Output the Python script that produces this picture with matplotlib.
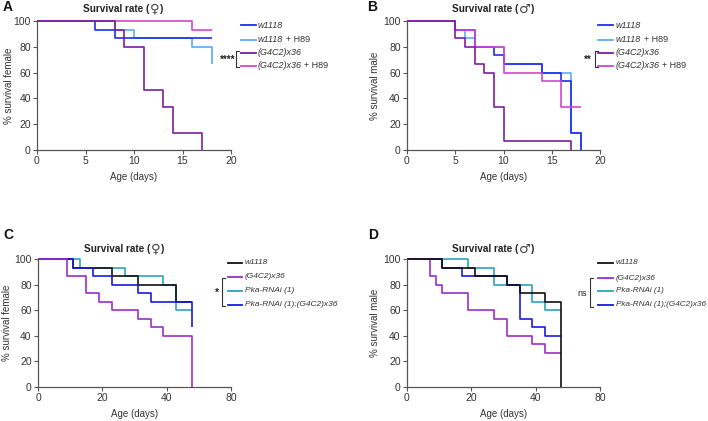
import matplotlib
matplotlib.use("Agg")
import matplotlib.pyplot as plt
from matplotlib.lines import Line2D

plt.rcParams['font.family'] = ['Liberation Sans', 'DejaVu Sans']

# ---------------- data ----------------
# Panel A (female, H89)
a_w1118_t = [0, 6, 8, 18]
a_w1118_s = [100, 93.3, 86.7, 86.7]
a_w1118h_t = [0, 8, 10, 16, 18]
a_w1118h_s = [100, 93.3, 86.7, 80, 66.7]
a_g4c2_t = [0, 8, 9, 11, 13, 14, 17]
a_g4c2_s = [100, 93.3, 80, 46.7, 33.3, 13.3, 0]
a_g4c2h_t = [0, 16, 18]
a_g4c2h_s = [100, 93.3, 93.3]

# Panel B (male, H89)
b_w1118_t = [0, 5, 7, 9, 10, 14, 16, 17, 18]
b_w1118_s = [100, 93.3, 80, 73.3, 66.7, 60, 53.3, 13.3, 0]
b_w1118h_t = [0, 5, 6, 7, 10, 14, 17, 18]
b_w1118h_s = [100, 93.3, 86.7, 80, 66.7, 60, 13.3, 0]
b_g4c2_t = [0, 5, 6, 7, 8, 9, 10, 17]
b_g4c2_s = [100, 86.7, 80, 66.7, 60, 33.3, 6.7, 0]
b_g4c2h_t = [0, 5, 7, 10, 14, 16, 18]
b_g4c2h_s = [100, 93.3, 80, 60, 53.3, 33.3, 33.3]

# Panel C (female, Pka-RNAi)
c_w1118_t = [0, 11, 23, 31, 43, 48]
c_w1118_s = [100, 93.3, 86.7, 80, 66.7, 66.7]
c_g4c2_t = [0, 9, 15, 19, 23, 31, 35, 39, 48]
c_g4c2_s = [100, 86.7, 73.3, 66.7, 60, 53.3, 46.7, 40, 0]
c_pka_t = [0, 13, 27, 39, 43, 48]
c_pka_s = [100, 93.3, 86.7, 80, 60, 60]
c_pkag_t = [0, 11, 17, 23, 31, 35, 48]
c_pkag_s = [100, 93.3, 86.7, 80, 73.3, 66.7, 46.7]

# Panel D (male, Pka-RNAi)
d_w1118_t = [0, 11, 21, 31, 35, 43, 48]
d_w1118_s = [100, 93.3, 86.7, 80, 73.3, 66.7, 0]
d_g4c2_t = [0, 7, 9, 11, 19, 27, 31, 39, 43, 48]
d_g4c2_s = [100, 86.7, 80, 73.3, 60, 53.3, 40, 33.3, 26.7, 26.7]
d_pka_t = [0, 19, 27, 39, 43, 48]
d_pka_s = [100, 93.3, 80, 66.7, 60, 60]
d_pkag_t = [0, 11, 17, 31, 35, 39, 43, 48]
d_pkag_s = [100, 93.3, 86.7, 80, 53.3, 46.7, 40, 40]

ab_xticks = [0, 5, 10, 15, 20]
ab_xticklabels = ['0', '5', '10', '15', '20']
cd_xticks = [0, 20, 40, 60]
cd_xticklabels = ['0', '20', '40', '80']
yticks = [0, 20, 40, 60, 80, 100]

# legend labels: (italic part, plain suffix)
ab_labels = [('w1118', ''), ('w1118', '+ H89'), ('(G4C2)x36', ''), ('(G4C2)x36', '+ H89')]
cd_labels = [('w1118', ''), ('(G4C2)x36', ''), ('Pka-RNAi (1)', ''), ('Pka-RNAi (1);(G4C2)x36', '')]

BLUE = '#1f2cf0'
LBLUE = '#5eaaf5'
PURPLE = '#7b1fa0'
MAGENTA = '#d444d0'
BLACK = '#111111'
VIOLET = '#9a2fc8'
TEAL = '#2ba3bd'
DBLUE = '#1a1ae0'
GRAY = '#555555'

W, H = 708, 421
fig = plt.figure(figsize=(W / 100, H / 100), dpi=100)
renderer = fig.canvas.get_renderer()


def fx(px):
    return px / W


def fy(py):
    return 1 - py / H


def rich(x, y, pieces, ha='left'):
    """pieces: list of (text, kwargs, gap_after_px). x,y in pixels from top-left."""
    arts = []
    widths = []
    for s, kw, gap in pieces:
        t = fig.text(0, fy(y), s, ha='left', va='center', **kw)
        w = t.get_window_extent(renderer).width
        arts.append(t)
        widths.append(w + gap)
    total = sum(widths)
    cur = x - total / 2 if ha == 'center' else x
    for t, w in zip(arts, widths):
        t.set_x(fx(cur))
        cur += w
    return arts


def make_ax(x0, x1, y0, y1, xlim, xticks, xticklabels, ylabel, ylabel_x, symbol, title_y):
    ax = fig.add_axes([fx(x0), fy(y1), fx(x1 - x0), (y1 - y0) / H])
    ax.set_xlim(xlim)
    ax.set_ylim(0, 100)
    for s in ['top', 'right']:
        ax.spines[s].set_visible(False)
    for s in ['left', 'bottom']:
        ax.spines[s].set_color(GRAY)
        ax.spines[s].set_linewidth(0.9)
    ax.set_xticks(xticks)
    ax.set_xticklabels(xticklabels)
    ax.set_yticks(yticks)
    ax.tick_params(length=3, width=0.8, color=GRAY, labelsize=7.5, labelcolor='#333333', pad=1.5)
    ax.set_xlabel('Age (days)', fontsize=7.0, color='#333333', labelpad=4)
    ax.set_ylabel(ylabel, fontsize=7.0, color='#333333', va='center')
    ax.yaxis.set_label_coords((ylabel_x - x0) / (x1 - x0), 0.5)
    ax.patch.set_alpha(0)
    tkw = dict(fontsize=7.2, fontweight='bold', color='#222222')
    rich(x0 + 0.445 * (x1 - x0), title_y,
         [('Survival rate (', tkw, 0.5),
          (symbol, dict(fontsize=9.5, color='#444444', family='DejaVu Sans'), 0.5),
          (')', tkw, 0)], ha='center')
    return ax


def steps(ax, t, s, c):
    ax.step(t, s, where='post', color=c, lw=1.2, clip_on=False, solid_capstyle='butt')


def legend(lx0, lx1, tx, rows, colors, labels, fs):
    for y, c, (it, plain) in zip(rows, colors, labels):
        fig.add_artist(Line2D([fx(lx0), fx(lx1)], [fy(y), fy(y)], color=c, lw=1.3))
        pieces = [(it, dict(fontsize=fs, style='italic', color='#333333'), fs * 0.38)]
        if plain:
            pieces.append((plain, dict(fontsize=fs, color='#333333'), 0))
        rich(tx, y, pieces)


def bracket(bx, y0, y1, star, sx, fs):
    fig.add_artist(Line2D([fx(bx + 3), fx(bx), fx(bx), fx(bx + 3)],
                          [fy(y0), fy(y0), fy(y1), fy(y1)], color='#333333', lw=0.8))
    fig.text(fx(sx), fy((y0 + y1) / 2 + 1), star, ha='right', va='center', fontsize=fs,
             fontweight='bold' if '*' in star else 'normal', color='#222222')


# Panel A
axA = make_ax(37, 231, 21, 150, (0, 20), ab_xticks, ab_xticklabels, '% survival female', 9.5, '♀', 9)
steps(axA, a_w1118h_t, a_w1118h_s, LBLUE)
steps(axA, a_w1118_t, a_w1118_s, BLUE)
steps(axA, a_g4c2h_t, a_g4c2h_s, MAGENTA)
steps(axA, a_g4c2_t, a_g4c2_s, PURPLE)
legend(241, 256, 258, [25, 39.5, 52.5, 65.5], [BLUE, LBLUE, PURPLE, MAGENTA], ab_labels, 6.5)
bracket(236, 51, 67, '****', 235, 7)

# Panel B
axB = make_ax(407, 600, 21, 150, (0, 20), ab_xticks, ab_xticklabels, '% survival male', 375.5, '♂', 9)
steps(axB, b_w1118h_t, b_w1118h_s, LBLUE)
steps(axB, b_w1118_t, b_w1118_s, BLUE)
steps(axB, b_g4c2h_t, b_g4c2h_s, MAGENTA)
steps(axB, b_g4c2_t, b_g4c2_s, PURPLE)
legend(598, 613, 616, [25, 39.5, 52.5, 65.5], [BLUE, LBLUE, PURPLE, MAGENTA], ab_labels, 6.5)
bracket(595, 51, 67, '**', 592, 7)

# Panel C
axC = make_ax(38, 231, 259, 387, (0, 60), cd_xticks, cd_xticklabels, '% survival female', 7.5, '♀', 249)
steps(axC, c_pka_t, c_pka_s, TEAL)
steps(axC, c_w1118_t, c_w1118_s, BLACK)
steps(axC, c_pkag_t, c_pkag_s, DBLUE)
steps(axC, c_g4c2_t, c_g4c2_s, VIOLET)
legend(228, 242, 245, [263, 277, 291, 305], [BLACK, VIOLET, TEAL, DBLUE], cd_labels, 6.0)
bracket(222, 278, 306, '*', 219, 7)

# Panel D
axD = make_ax(407, 600, 259, 387, (0, 60), cd_xticks, cd_xticklabels, '% survival male', 375.5, '♂', 249)
steps(axD, d_pka_t, d_pka_s, TEAL)
steps(axD, d_pkag_t, d_pkag_s, DBLUE)
steps(axD, d_g4c2_t, d_g4c2_s, VIOLET)
steps(axD, d_w1118_t, d_w1118_s, BLACK)
legend(598, 613, 616, [263, 278, 291, 305], [BLACK, VIOLET, TEAL, DBLUE], cd_labels, 5.9)
bracket(590, 278, 307, 'ns', 587, 6.5)

# Panel letters
for letter, x, y in [('A', 3, 7), ('B', 367, 7), ('C', 3, 235), ('D', 368, 235)]:
    fig.text(fx(x), fy(y), letter, ha='left', va='center', fontsize=10, fontweight='bold', color='#111111')

fig.savefig('out.png', dpi=100)
